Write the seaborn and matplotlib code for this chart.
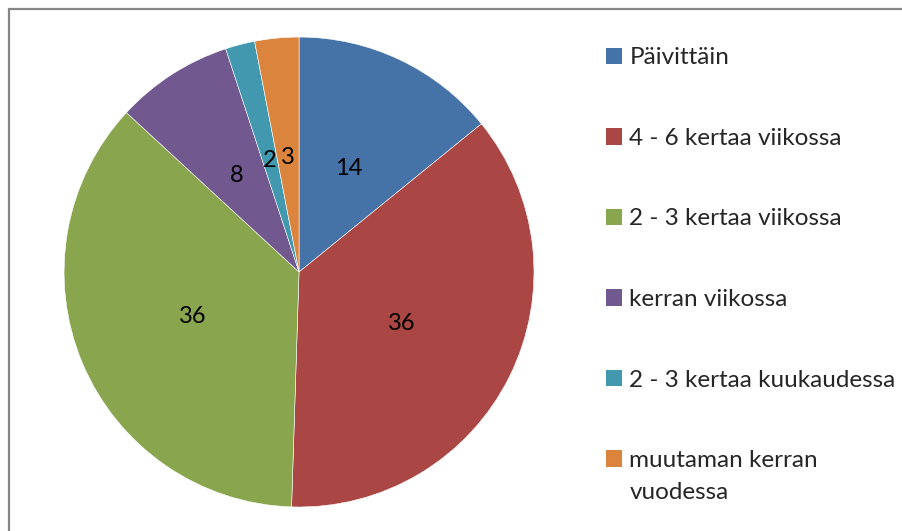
import matplotlib
matplotlib.use("Agg")
import matplotlib.pyplot as plt
import seaborn as sns
from matplotlib.lines import Line2D
from matplotlib.patches import Patch

sns.set_style("white")
plt.rcParams["font.family"] = ["Lato", "DejaVu Sans"]

# data
categories = ["Päivittäin", "4 - 6 kertaa viikossa", "2 - 3 kertaa viikossa",
              "kerran viikossa", "2 - 3 kertaa kuukaudessa",
              "muutaman kerran"]
last_line = "vuodessa"  # second line of the last legend label
values = [14, 36, 36, 8, 2, 3]
colors = sns.color_palette(["#4572A7", "#AA4643", "#89A54E",
                            "#71588F", "#4198AF", "#DB843D"])

fig = plt.figure(figsize=(9.03, 5.31), dpi=100)
ax = fig.add_axes([0.0709, 0.0452, 0.5205, 0.885])

wedges, texts = ax.pie(values, colors=colors, startangle=90, counterclock=False,
                       labels=[str(v) for v in values], labeldistance=0.49,
                       wedgeprops=dict(edgecolor="white", linewidth=0.4))
for t in texts:
    t.set_ha("center")
    t.set_va("center")
    t.set_fontsize(17)
    t.set_color("black")
ax.set_xlim(-1, 1)
ax.set_ylim(-1, 1)
ax.set_aspect("equal")

handles = [Patch(facecolor=c, edgecolor="none") for c in colors]
leg = fig.legend(handles, categories, loc="upper left", bbox_to_anchor=(0.647, 0.952),
                 frameon=False, fontsize=17.5, labelspacing=2.45, handlelength=0.66,
                 handleheight=0.66, handletextpad=0.3)

# second line of last legend entry, aligned under its first line
fig.canvas.draw()
bb = leg.get_texts()[-1].get_window_extent()
fig.text(bb.x0 / 903, (bb.y0 - 32) / 531, last_line, fontsize=17.5,
         ha="left", va="bottom")

# chart border (top and left visible)
fig.add_artist(Line2D([9.5 / 903, 1.0], [1 - 9 / 531, 1 - 9 / 531],
                      color="#868686", linewidth=1.6))
fig.add_artist(Line2D([9.5 / 903, 9.5 / 903], [0.0, 1 - 9 / 531],
                      color="#868686", linewidth=1.6))

fig.savefig("out.png", dpi=100)
